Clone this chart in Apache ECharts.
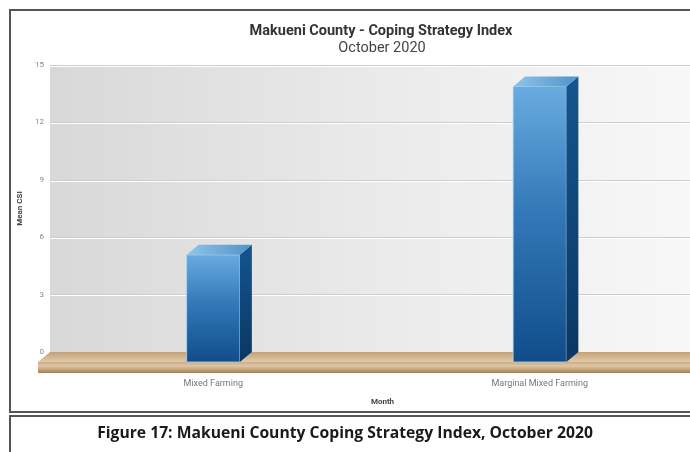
<!DOCTYPE html>
<html>
<head>
<meta charset="utf-8">
<script src="https://cdn.jsdelivr.net/npm/echarts@6/dist/echarts.min.js"></script>
<style>
  html, body { margin: 0; padding: 0; background: #ffffff; overflow: hidden; }
  #chart { width: 690px; height: 452px; }
</style>
</head>
<body>
<div id="chart"></div>
<script>
// Livelihood zones and their mean Coping Strategy Index
const categories = ['Mixed Farming', 'Marginal Mixed Farming'];
const meanCsi = [5.6, 14.4];
const yTicks = { min: 0, max: 15, interval: 3 };

const titleText = 'Makueni County - Coping Strategy Index';
const subtitleText = 'October 2020';
const captionText = 'Figure 17: Makueni County Coping Strategy Index, October 2020';

// 3D projection offsets (front plane is shifted left/down from the back wall)
const DX = 12, DY = 10;
const BAR_RATIO = 0.163;

const chart = echarts.init(document.getElementById('chart'), null, { renderer: 'canvas' });

function lin(x1, y1, x2, y2, stops) {
  return new echarts.graphic.LinearGradient(x1, y1, x2, y2,
    stops.map(s => ({ offset: s[0], color: s[1] })));
}

// Tan floor slab under the columns
function renderFloor(params, api) {
  const cs = params.coordSys;
  const y0 = api.coord([0, 0])[1];
  const right = cs.x + cs.width + 40;
  return {
    type: 'group',
    children: [
      {
        type: 'polygon',
        shape: { points: [[cs.x, y0], [right, y0], [right - DX, y0 + DY], [cs.x - DX, y0 + DY]] },
        style: { fill: lin(0, 0, 0, 1, [[0, '#c2a178'], [0.5, '#d2b690'], [1, '#dfc9ab']]) }
      },
      {
        type: 'rect',
        shape: { x: cs.x - DX, y: y0 + DY, width: right - cs.x + DX, height: 11 },
        style: { fill: lin(0, 0, 0, 1, [[0, '#cbab82'], [0.35, '#dec6a6'], [0.7, '#c3a177'], [1, '#9f8059']]) }
      }
    ]
  };
}

// 3D column: front face, side face and top face
function renderColumn(params, api) {
  const idx = api.value(0);
  const val = api.value(1);
  const top = api.coord([idx, val]);
  const base = api.coord([idx, 0]);
  const band = api.size([1, 0])[0];
  const w = band * BAR_RATIO;
  const cx = top[0];
  const l = cx - w / 2, r = cx + w / 2;
  const ft = top[1] + DY, fb = base[1] + DY;
  return {
    type: 'group',
    children: [
      {
        type: 'rect',
        shape: { x: l, y: ft, width: w, height: fb - ft },
        style: {
          fill: lin(0, 0, 0, 1, [[0, '#68ace0'], [0.45, '#3479b8'], [1, '#0f4d8a']]),
          stroke: 'rgba(170,215,245,0.8)', lineWidth: 1
        }
      },
      {
        type: 'polygon',
        shape: { points: [[r, ft], [r + DX, ft - DY], [r + DX, fb - DY], [r, fb]] },
        style: { fill: lin(0, 0, 0, 1, [[0, '#14558f'], [1, '#0a3764']]) }
      },
      {
        type: 'polygon',
        shape: { points: [[l, ft], [r, ft], [r + DX, ft - DY], [l + DX, ft - DY]] },
        style: { fill: lin(0, 0, 1, 0, [[0, '#8fc5ea'], [1, '#4f93cb']]) }
      }
    ]
  };
}

const option = {
  backgroundColor: '#ffffff',
  animation: false,
  title: [
    {
      text: titleText,
      left: 381, top: 24, textAlign: 'center', padding: 0,
      textStyle: { fontFamily: 'Roboto', fontSize: 14.5, fontWeight: 'bold', color: '#333333' }
    },
    {
      text: subtitleText,
      left: 382, top: 41, textAlign: 'center', padding: 0,
      textStyle: { fontFamily: 'Roboto', fontSize: 14.5, fontWeight: 'normal', color: '#444444' }
    },
    {
      text: captionText,
      left: 345, top: 426, textAlign: 'center', padding: 0,
      textStyle: { fontFamily: 'Open Sans', fontSize: 15.7, fontWeight: 'bold', color: '#1a1a1a' }
    }
  ],
  grid: {
    left: 50, right: -13, top: 65, bottom: 100,
    outerBoundsMode: 'none',
    containLabel: false,
    show: true, borderWidth: 0,
    backgroundColor: lin(0, 0, 1, 0, [[0, '#d8d8d8'], [0.5, '#eaeaea'], [1, '#f8f8f8']])
  },
  xAxis: {
    type: 'category',
    data: categories,
    name: 'Month',
    nameLocation: 'middle',
    nameGap: 46,
    nameTextStyle: { fontFamily: 'Roboto', fontSize: 8, fontWeight: 'bold', color: '#444444', padding: [0, 0, 0, 12] },
    axisLine: { show: false },
    axisTick: { show: false },
    axisLabel: { margin: 27, fontFamily: 'Roboto', fontSize: 9, color: '#777777' },
    splitLine: { show: false }
  },
  yAxis: {
    type: 'value',
    min: yTicks.min, max: yTicks.max, interval: yTicks.interval,
    name: 'Mean CSI',
    nameLocation: 'middle',
    nameGap: 26,
    nameTextStyle: { fontFamily: 'Roboto', fontSize: 8, fontWeight: 'bold', color: '#444444' },
    axisLine: { show: false },
    axisTick: { show: false },
    axisLabel: { margin: 6, fontFamily: 'Roboto', fontSize: 8, color: '#888888' },
    splitLine: {
      show: true,
      lineStyle: { color: '#cdcdcd', width: 1, shadowColor: '#ffffff', shadowOffsetY: 1 }
    }
  },
  series: [
    {
      type: 'custom',
      z: 1,
      silent: true,
      renderItem: renderFloor,
      data: [[0, 0]]
    },
    {
      type: 'custom',
      z: 3,
      renderItem: renderColumn,
      data: meanCsi.map((v, i) => [i, v])
    }
  ],
  graphic: [
    {
      type: 'rect', z: 100, silent: true,
      shape: { x: 10, y: 10, width: 720, height: 402 },
      style: { fill: 'none', stroke: '#555555', lineWidth: 2 }
    },
    {
      type: 'rect', z: 100, silent: true,
      shape: { x: 10, y: 416, width: 720, height: 60 },
      style: { fill: 'none', stroke: '#555555', lineWidth: 2 }
    }
  ]
};

chart.setOption(option);
</script>
</body>
</html>
